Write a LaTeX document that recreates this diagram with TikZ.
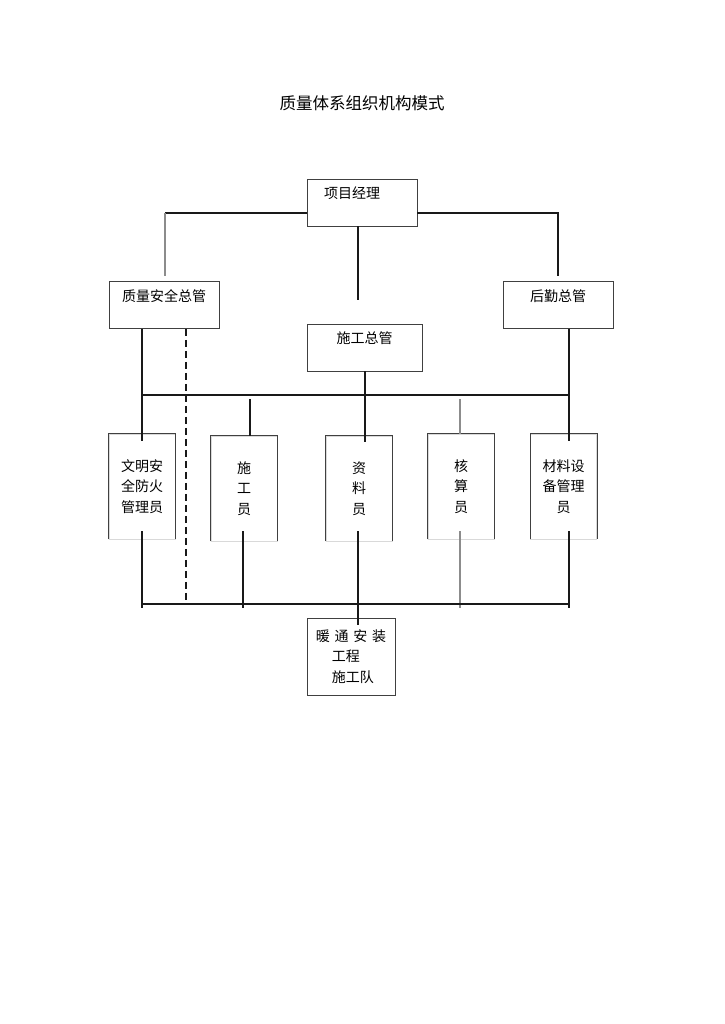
\documentclass[tikz,border=0pt]{standalone}
\usepackage{fontspec}
\newfontfamily\cjk{Noto Sans CJK SC}
\usetikzlibrary{positioning}

\begin{document}
\begin{tikzpicture}[
x=1pt,
y=-1pt,
every node/.style={
inner sep=0pt,
font=\cjk\fontsize{14}{20.5}\selectfont
},
headbox/.style={
draw=black!75,
line width=0.9pt,
minimum width=110pt,
text height=19.5pt,
text depth=27.5pt
},
staffbox/.style={
draw=black!15,
line width=0.8pt,
minimum width=66pt,
minimum height=105pt,
align=center
},
link/.style={black!90, line width=1.1pt},
lightlink/.style={black!45, line width=1.1pt}
]

\path[fill=white, use as bounding box] (0,0) rectangle (724,1024);

\node[font=\cjk\fontsize{16.5}{20}\selectfont] (title) at (362,103) {质量体系组织机构模式};

\node[headbox] (pm) at (362,202.5) {项目经理\kern20pt};
\node[headbox] (qs) at (164,305) {质量安全总管};
\node[headbox] (hq) at (558,305) {后勤总管};
\node[headbox, minimum width=115pt] (sg) at (364.5,347.5) {施工总管};

\node[staffbox] (wm) at (142,486.5) {文明安\\全防火\\管理员};
\node[staffbox] (sgy) at (244,488.5) {施\\工\\员};
\node[staffbox] (zl) at (359,488.5) {资\\料\\员};
\node[staffbox] (hs) at (461,486.5) {核\\算\\员};
\node[staffbox] (cl) at (563.5,486.5) {材料设\\备管理\\员};
\foreach \n in {wm,sgy,zl,hs,cl}
\draw[black!75, line width=0.8pt] (\n.south west) -- (\n.north west) -- (\n.north east) -- (\n.south east);

\node[draw=black!75, line width=0.9pt, minimum width=88pt, minimum height=77pt, align=left] (team) at (351,656.5)
{暖\hspace{4.7pt}通\hspace{4.7pt}安\hspace{4.7pt}装\\\hspace{16pt}工程\\\hspace{16pt}施工队};

\coordinate (tl) at (165,213);
\coordinate (tr) at (558,213);
\coordinate (busl) at (142,395);
\coordinate (busr) at (569,395);
\coordinate (botl) at (142,604);
\coordinate (botr) at (569,604);

\draw[link] (pm.west |- tl) -- (tl);
\draw[lightlink] (tl) -- ++(0,-63pt);
\draw[link] (pm.east |- tr) -- (tr) -- ++(0,-63pt);
\draw[link] ([xshift=-4pt]pm.south) -- ++(0,-74pt);

\draw[link] (qs.south -| wm.north) -- ([yshift=-7pt]wm.north);
\draw[link, dash pattern=on 7pt off 4pt] ([xshift=22pt]qs.south) -- ++(0,-273pt);
\draw[link] ([xshift=11pt]hq.south) -- ++(0,-112pt);
\draw[link] ([xshift=0.5pt]sg.south) -- ++(0,-71pt);

\draw[link] (busl) -- (busr);
\draw[link] ([xshift=6pt]sgy.north) -- ++(0,37pt);
\draw[lightlink] ([xshift=-1pt]hs.north) -- ++(0,35pt);

\draw[link] ([yshift=8pt]wm.south) -- ++(0,-77pt);
\draw[link] ([xshift=-1pt,yshift=10pt]sgy.south) -- ++(0,-77pt);
\draw[link] ([xshift=-1pt,yshift=10pt]zl.south) -- ++(0,-94pt);
\draw[lightlink] ([xshift=-1pt,yshift=8pt]hs.south) -- ++(0,-77pt);
\draw[link] ([xshift=5.5pt,yshift=8pt]cl.south) -- ++(0,-77pt);

\draw[link] (botl) -- (botr);

\end{tikzpicture}
\end{document}
